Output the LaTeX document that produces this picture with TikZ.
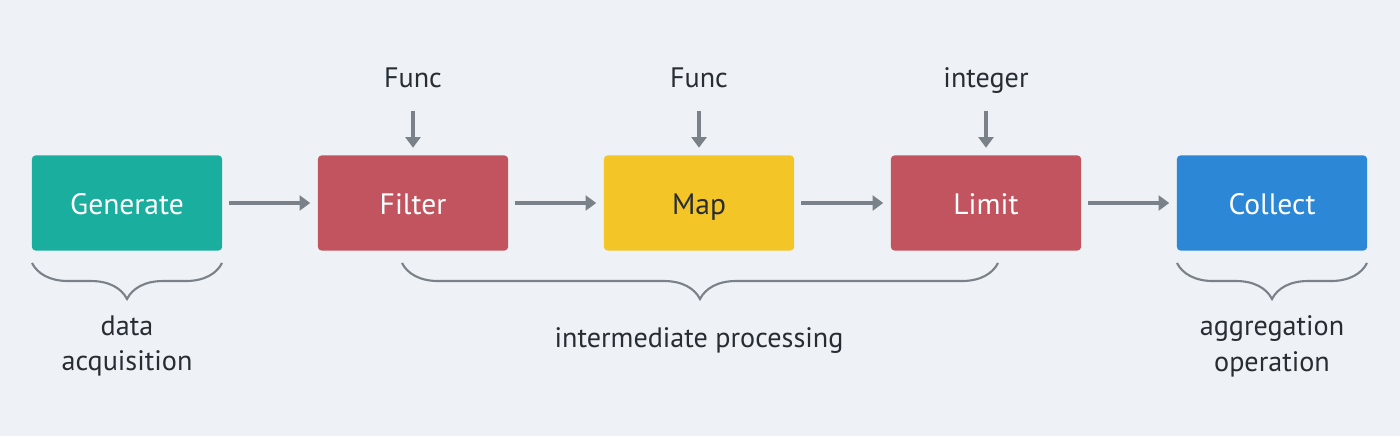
\documentclass[tikz,border=0pt]{standalone}
\usepackage{fontspec}
\setmainfont{PT Sans}
\usetikzlibrary{arrows.meta,decorations.pathreplacing}
\definecolor{bgcol}{RGB}{238, 242, 246}
\definecolor{teal}{RGB}{26, 174, 159}
\definecolor{nicered}{RGB}{193, 84, 94}
\definecolor{niceyellow}{RGB}{244, 197, 39}
\definecolor{niceblue}{RGB}{44, 136, 215}
\definecolor{lgray}{RGB}{122, 129, 137}
\definecolor{dtext}{RGB}{40, 45, 52}

\begin{document}
\begin{tikzpicture}[x = 0.01cm, y = -0.01cm,
	stage/.style = {rectangle, rounded corners = 1pt, minimum width = 1.9cm, minimum height = 0.95cm, inner sep = 0pt, text height = 1.6ex, text depth = 0.3ex, text = white, font = \fontsize{8.4}{10}\selectfont},
	lbl/.style = {text = dtext, font = \fontsize{8}{10.2}\selectfont, align = center},
	flow/.style = {draw = lgray, line width = 1.1pt, shorten < = 0.06cm, shorten > = 0.07cm, -{Triangle[length = 3pt, width = 4.2pt]}},
	brc/.style = {draw = lgray, line width = 0.6pt, decorate, decoration = {brace, mirror, amplitude = 0.36cm}}]
			\fill[bgcol] (0,0) rectangle (1400,436);
			\node (gen) at (127,203) [stage, fill = teal] {Generate};
			\node (fil) at (413,203) [stage, fill = nicered] {Filter};
			\node (map) at (699,203) [stage, fill = niceyellow, text = dtext] {Map};
			\node (lim) at (986,203) [stage, fill = nicered] {Limit};
			\node (col) at (1272,203) [stage, fill = niceblue] {Collect};
			\node (f1) at (413,87) [lbl, anchor = base, text depth = 0.3ex] {Func};
			\node (f2) at (699,87) [lbl, anchor = base, text depth = 0.3ex] {Func};
			\node (f3) at (986,87) [lbl, anchor = base, text depth = 0.3ex] {integer};
			\draw[flow] (gen) -- (fil);
			\draw[flow] (fil) -- (map);
			\draw[flow] (map) -- (lim);
			\draw[flow] (lim) -- (col);
			\draw[flow] (f1) -- (fil);
			\draw[flow] (f2) -- (map);
			\draw[flow] (f3) -- (lim);
			\coordinate (b1) at (32,263);
			\coordinate (b2) at (222,263);
			\coordinate (b3) at (402,263);
			\coordinate (b4) at (998,263);
			\coordinate (b5) at (1177,263);
			\coordinate (b6) at (1367,263);
			\draw[brc] (b1) -- (b2);
			\draw[brc] (b3) -- (b4);
			\draw[brc] (b5) -- (b6);
			\node (acq) at (127,346) [lbl] {data\\acquisition};
			\node (mid) at (699,341) [lbl] {intermediate processing};
			\node (agg) at (1272,346) [lbl] {aggregation\\operation};
			\end{tikzpicture}
\end{document}
